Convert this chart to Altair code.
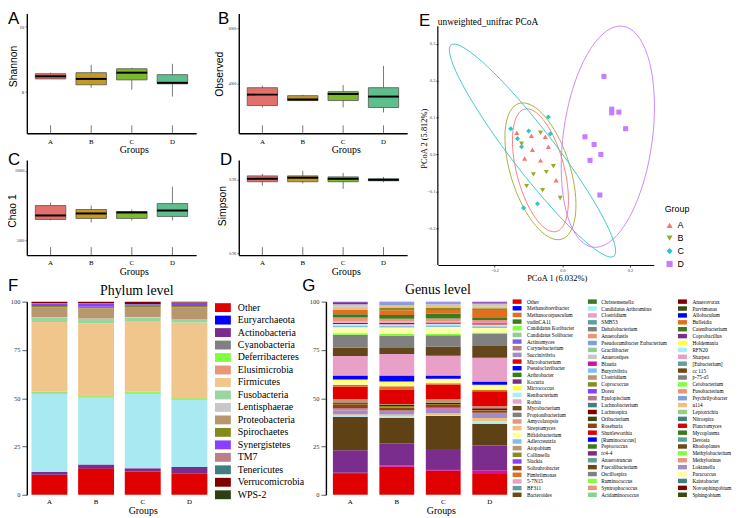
import math
import altair as alt
import pandas as pd

SERIF = "Liberation Serif"
SANS = "Liberation Sans"

# ---------------- alpha diversity (box plots) ----------------
groups = ["A", "B", "C", "D"]
box_colors = ["#E2706B", "#C39A24", "#7DB92D", "#5FBE8D"]

shannon_low = [8.39, 8.12, 8.06, 7.85]
shannon_q1 = [8.39, 8.21, 8.36, 8.24]
shannon_med = [8.47, 8.39, 8.58, 8.27]
shannon_q3 = [8.55, 8.58, 8.70, 8.52]
shannon_high = [8.58, 8.82, 8.73, 8.85]

observed_low = [3143, 3380, 3143, 2964]
observed_q1 = [3214, 3393, 3393, 3143]
observed_med = [3607, 3430, 3631, 3536]
observed_q3 = [3857, 3570, 3714, 3857]
observed_high = [3929, 3600, 3952, 4643]

chao_low = [6429, 6286, 6429, 6429]
chao_q1 = [6500, 6571, 6571, 6714]
chao_med = [6786, 6929, 7000, 7143]
chao_q3 = [7500, 7214, 7071, 7643]
chao_high = [7714, 7500, 7214, 8857]

simpson_low = [0.9876, 0.9885, 0.9863, 0.9890]
simpson_q1 = [0.9892, 0.9892, 0.9892, 0.9896]
simpson_med = [0.9904, 0.9908, 0.9904, 0.9900]
simpson_q3 = [0.9916, 0.9916, 0.9912, 0.9904]
simpson_high = [0.9924, 0.9937, 0.9928, 0.9912]

# ---------------- PCoA ----------------
pcoa_colors = ["#F8766D", "#9DAA2C", "#2EC4C9", "#C77CFF"]
pcoa_shapes = ["triangle-up", "triangle-down", "diamond", "square"]
pcoa_group = ["A"] * 8 + ["B"] * 8 + ["C"] * 8 + ["D"] * 10
pcoa_x = [-0.134, -0.091, -0.050, -0.041, -0.111, -0.064, -0.018, -0.088,
          -0.120, -0.064, -0.085, -0.047, -0.105, -0.026, -0.006, -0.058,
          -0.152, -0.132, -0.120, -0.099, -0.035, -0.114, -0.073, -0.041,
          0.123, 0.146, 0.167, 0.067, 0.094, 0.114, 0.082, 0.111, 0.187, 0.146]
pcoa_y = [0.059, 0.051, 0.048, 0.021, -0.011, -0.016, -0.070, 0.013,
          0.029, 0.059, -0.054, -0.048, -0.086, -0.032, -0.118, -0.097,
          0.070, 0.043, 0.021, 0.064, 0.056, -0.145, -0.134, 0.102,
          0.212, 0.123, 0.115, 0.048, 0.027, 0.000, -0.016, -0.110, 0.070, 0.113]
# confidence ellipses: centre and two conjugate semi-axes
ell_cx = [-0.0643, -0.0643, -0.0877, 0.1345]
ell_cy = [-0.0429, -0.0456, 0.0107, 0.0483]
ell_ux = [0.0468, 0.0632, 0.240, 0.0439]
ell_uy = [-0.1662, -0.1842, -0.287, 0.300]
ell_vx = [-0.0681, -0.0836, -0.051, 0.1304]
ell_vy = [-0.0161, -0.0241, -0.036, -0.0155]

# ---------------- Phylum level ----------------
phyla = ["Other", "Euryarchaeota", "Actinobacteria", "Bacteroidetes", "Cyanobacteria",
         "Deferribacteres", "Elusimicrobia", "Firmicutes", "Fusobacteria", "Lentisphaerae",
         "Proteobacteria", "Spirochaetes", "Synergistetes", "TM7", "Tenericutes",
         "Verrucomicrobia", "WPS-2"]
phylum_colors = ["#E00000", "#0000FF", "#7B2D8E", "#A9E9F2", "#808080", "#80FF40", "#E8967A",
                 "#F0C68C", "#99D5A0", "#C8C8C8", "#B8966E", "#848A1E", "#8A3FFF", "#B88088",
                 "#3F7F7F", "#800000", "#2F4010"]
phylum_A = [10.3, 0.1, 1.4, 40.8, 0.3, 0.4, 0.1, 36.1, 2.4, 0.2, 5.0, 0.7, 1.1, 0.2, 0.1, 0.7, 0.1]
phylum_B = [13.7, 0.1, 1.9, 34.6, 0.2, 0.5, 0.1, 37.6, 2.4, 0.2, 5.3, 0.7, 1.6, 0.1, 0.1, 0.8, 0.1]
phylum_C = [12.0, 0.1, 1.6, 38.9, 0.2, 0.4, 0.1, 36.3, 2.2, 0.2, 4.9, 1.0, 0.7, 0.1, 0.1, 1.1, 0.1]
phylum_D = [10.8, 0.1, 3.5, 35.0, 0.2, 0.4, 0.1, 39.1, 1.4, 0.2, 6.1, 0.9, 1.5, 0.1, 0.1, 0.4, 0.1]
phylum_legend = ["Other", "Euryarchaeota", "Actinobacteria", "Cyanobacteria", "Deferribacteres",
                 "Elusimicrobia", "Firmicutes", "Fusobacteria", "Lentisphaerae", "Proteobacteria",
                 "Spirochaetes", "Synergistetes", "TM7", "Tenericutes", "Verrucomicrobia", "WPS-2"]

# ---------------- Genus level ----------------
genus_segments = ["Other", "Blautia", "Prevotella", "Bacteroides", "Parabacteroides", "Streptomyces",
                  "Succinivibrio", "Rothia", "Solirubrobacter", "Collinsella", "Lachnospira",
                  "Atopobium", "Lactobacillus", "Bulleidia", "Bifidobacterium", "Holdemania",
                  "[Ruminococcus]", "Clostridium", "Faecalibacterium", "Oscillospira", "Ruminococcus",
                  "Megasphaera", "Adlercreutzia", "RFN20", "Planctomyces", "Sharpea", "Anaerofustis",
                  "Catenibacterium", "Fimbriimonas", "Coprococcus", "u114", "Anaerostipes",
                  "Psychrilyobacter", "Coprobacillus", "Dorea"]
genus_seg_colors = ["#E00000", "#D0149A", "#7B2D8E", "#5E4215", "#A8EEF8", "#F0C080",
                    "#A08CC8", "#E070C0", "#8B4513", "#8A8A20", "#800000",
                    "#B8966E", "#E00000", "#E07020", "#FFFF99", "#FFFF40",
                    "#0000FF", "#E8A0C8", "#63461A", "#808080", "#80FF40",
                    "#FFFFA8", "#80C0F0", "#C8E8F0", "#E00000", "#E8A0C8", "#E8967A",
                    "#3C7A1E", "#E07020", "#8A8A20", "#F0C080", "#C8C8C8",
                    "#80A0D8", "#7B2D8E", "#8A3FFF"]
genus_A = [10.7, 0.7, 11.6, 17.4, 0.5, 0.8, 2.0, 1.0, 2.1, 0.3, 0.7, 1.7, 6.5, 1.0, 1.7, 1.0,
           2.0, 10.1, 4.3, 6.8, 0.7, 3.1, 1.0, 0.7, 0.7, 0.7, 2.0, 1.7, 2.4, 0.0, 1.4, 1.4,
           0.0, 1.0, 0.3]
genus_B = [14.5, 0.8, 11.4, 13.1, 0.9, 0.8, 1.4, 0.7, 1.4, 1.0, 0.7, 0.3, 7.2, 2.0, 1.4, 1.0,
           3.1, 11.2, 3.1, 6.5, 0.7, 3.4, 1.0, 0.7, 0.7, 0.7, 1.4, 2.0, 2.4, 1.4, 1.4, 0.0,
           1.4, 0.0, 0.3]
genus_C = [12.4, 0.9, 10.4, 17.1, 0.5, 0.9, 2.2, 0.7, 1.4, 0.3, 0.9, 1.7, 7.7, 0.7, 1.7, 0.6,
           1.7, 10.2, 4.6, 6.0, 0.7, 3.6, 0.9, 0.7, 0.7, 0.7, 1.4, 2.4, 2.0, 1.0, 1.0, 1.0,
           1.0, 0.0, 0.3]
genus_D = [10.7, 2.0, 12.8, 11.2, 1.4, 1.7, 2.0, 0.7, 1.0, 0.3, 1.0, 1.0, 7.8, 0.7, 1.7, 1.0,
           1.7, 12.3, 6.0, 6.3, 0.7, 2.4, 0.8, 0.9, 0.7, 0.7, 1.0, 1.0, 4.1, 1.0, 1.0, 1.4,
           0.0, 0.7, 0.3]

genus_legend_1 = ["Other", "Methanobrevibacter", "Methanocorpusculum", "vadinCA11",
                  "Candidatus Koribacter", "Candidatus Solibacter", "Actinomyces", "Corynebacterium",
                  "Succinivibrio", "Microbacterium", "Pseudoclavibacter", "Arthrobacter", "Kocuria",
                  "Micrococcus", "Renibacterium", "Rothia", "Mycobacterium", "Propionibacterium",
                  "Amycolatopsis", "Streptomyces", "Bifidobacterium", "Adlercreutzia", "Atopobium",
                  "Collinsella", "Slackia", "Solirubrobacter", "Fimbriimonas", "5-7N15", "BF311",
                  "Bacteroides"]
genus_colors_1 = ["#E00000", "#0000FF", "#E07020", "#3C7A1E", "#80FF40", "#8FD08F", "#7F5FE0",
                  "#B07C88", "#A08CC8", "#E00000", "#0000FF", "#3C7A1E", "#7B2D8E", "#FFFF40",
                  "#A8EEF8", "#E8A0C8", "#6B4A14", "#808080", "#E8967A", "#F0C080", "#FFFF99",
                  "#80C0F0", "#B8966E", "#8A8A20", "#8A3FFF", "#8B4513", "#E07020", "#E8A0C8",
                  "#5F9F9F", "#6B4A14"]
genus_legend_2 = ["Christensenella", "Candidatus Arthromitus", "Clostridium", "SMB53",
                  "Dehalobacterium", "Anaerofustis", "Pseudoramibacter Eubacterium", "Gracilibacter",
                  "Anaerostipes", "Blautia", "Butyrivibrio", "Clostridium", "Coprococcus", "Dorea",
                  "Epulopiscium", "Lachnobacterium", "Lachnospira", "Oribacterium", "Roseburia",
                  "Shuttleworthia", "[Ruminococcus]", "Peptococcus", "rc4-4", "Anaerotruncus",
                  "Faecalibacterium", "Oscillospira", "Ruminococcus", "Syntrophococcus",
                  "Acidaminococcus"]
genus_colors_2 = ["#3C7A1E", "#A8EEF8", "#E8A0C8", "#5F9F9F", "#808080", "#E8967A", "#80A0D8",
                  "#8FD08F", "#C8C8C8", "#D0149A", "#80C0F0", "#B8966E", "#8A8A20", "#8A3FFF",
                  "#B07C88", "#3F7F7F", "#800000", "#3A4A10", "#8B4513", "#E00000", "#0000FF",
                  "#3C7A1E", "#7B2D8E", "#5F9F9F", "#6B4A14", "#808080", "#80FF40", "#E8967A",
                  "#8FD08F"]
genus_legend_3 = ["Anaerovorax", "Parvimonas", "Allobaculum", "Bulleidia", "Catenibacterium",
                  "Coprobacillus", "Holdemania", "RFN20", "Sharpea", "[Eubacterium]", "cc 115",
                  "p-75-a5", "Cetobacterium", "Fusobacterium", "Psychrilyobacter", "u114",
                  "Leptotrichia", "Nitrospira", "Planctomyces", "Mycoplasma", "Devosia",
                  "Rhodoplanes", "Methylobacterium", "Methylosinus", "Loktanella", "Paracoccus",
                  "Kaistobacter", "Novosphingobium", "Sphingobium"]
genus_colors_3 = ["#800000", "#3A4A10", "#0000FF", "#E07020", "#3C7A1E", "#7B2D8E", "#FFFF40",
                  "#A8EEF8", "#E8A0C8", "#5F9F9F", "#6B4A14", "#808080", "#80FF40", "#E8967A",
                  "#80A0D8", "#F0C080", "#8FD08F", "#3F7F7F", "#E00000", "#3C7A1E", "#5F9F9F",
                  "#6B4A14", "#80FF40", "#E8967A", "#A08CC8", "#FFFF99", "#3F7F7F", "#800000",
                  "#3A4A10"]


# ================= helpers =================
def letter_layer(letter, x, y):
    return alt.Chart(pd.DataFrame({"t": [letter]})).mark_text(
        font=SANS, fontSize=17, align="left", baseline="top", color="black"
    ).encode(text="t:N", x=alt.value(x), y=alt.value(y))


def text_layer(txt, x, y, size, font=SERIF, align="center", baseline="middle"):
    return alt.Chart(pd.DataFrame({"t": [txt]})).mark_text(
        font=font, fontSize=size, align=align, baseline=baseline, color="black"
    ).encode(text="t:N", x=alt.value(x), y=alt.value(y))


def box_panel(low, q1, med, q3, high, domain, ticks, fmt, lsize, ytitle, tx, ty,
              letter, lx, ly, w, h, gty):
    df = pd.DataFrame({"group": groups, "low": low, "q1": q1, "med": med,
                       "q3": q3, "high": high, "fill": box_colors})
    xaxis = alt.Axis(title="Groups", labelAngle=0, ticks=False, domainColor="black",
                     domainWidth=1.4, labelFont=SERIF, labelFontSize=7, labelColor="black",
                     labelPadding=4, titleFont=SERIF, titleFontSize=10,
                     titleFontWeight="normal", titleColor="black", titleX=108, titleY=gty,
                     titleBaseline="middle")
    xenc = alt.X("group:N", scale=alt.Scale(domain=groups, paddingInner=0.25, paddingOuter=0.21),
                 axis=xaxis)
    yaxis = alt.Axis(title=ytitle, values=ticks, format=fmt, grid=False, domainColor="black",
                     domainWidth=1.4, tickColor="#444444", tickSize=2, tickWidth=0.6,
                     labelFont=SERIF, labelFontSize=lsize, labelColor="#333333", labelPadding=1,
                     titleFont=SANS, titleFontSize=10.5, titleFontWeight="normal",
                     titleColor="black", titleX=tx, titleY=ty, titleBaseline="middle")
    ysc = alt.Scale(domain=domain, nice=False, zero=False)
    base = alt.Chart(df)
    whisk = base.mark_rule(color="#555555", strokeWidth=0.8).encode(
        x=xenc, y=alt.Y("low:Q", scale=ysc, axis=yaxis), y2="high:Q")
    box = base.mark_bar(stroke="#555555", strokeWidth=0.8).encode(
        x=xenc, y=alt.Y("q1:Q", scale=ysc, axis=yaxis), y2="q3:Q",
        fill=alt.Fill("fill:N", scale=None))
    mid = base.mark_tick(color="black", thickness=2, size=31, opacity=1).encode(
        x=xenc, y=alt.Y("med:Q", scale=ysc, axis=yaxis))
    xt = base.mark_rule(color="#555555", strokeWidth=0.8).encode(
        x=xenc, y=alt.value(h), y2=alt.value(h - 8))
    return alt.layer(whisk, box, mid, xt, letter_layer(letter, lx, ly)).properties(
        width=w, height=h)


def legend_layers(names, colors, ysc, sym_x, txt_x, shape, size, fsize, yvals):
    df = pd.DataFrame({"name": names, "color": colors, "row": yvals})
    sym = alt.Chart(df).mark_point(shape=shape, filled=True, size=size, opacity=1,
                                   strokeWidth=0).encode(
        x=alt.value(sym_x), y=alt.Y("row:Q", scale=ysc, axis=None),
        fill=alt.Fill("color:N", scale=None))
    txt = alt.Chart(df).mark_text(align="left", baseline="middle", font=SERIF,
                                  fontSize=fsize, color="black").encode(
        x=alt.value(txt_x), y=alt.Y("row:Q", scale=ysc, axis=None), text="name:N")
    return [sym, txt]


def stack_df(names, colors, series):
    rows = []
    for g, vals in zip(groups, series):
        for i, (n, c, v) in enumerate(zip(names, colors, vals)):
            rows.append({"group": g, "taxon": n, "color": c, "value": v, "idx": i})
    return pd.DataFrame(rows)


def bar_layer(df, pad_outer, pad_inner, title_x):
    xaxis = alt.Axis(title="Groups", labelAngle=0, ticks=False, domain=False,
                     labelFont=SERIF, labelFontSize=7, labelColor="black", labelPadding=3,
                     titleFont=SERIF, titleFontSize=10, titleFontWeight="normal",
                     titleColor="black", titleX=title_x, titleY=16, titleBaseline="middle")
    yaxis = alt.Axis(title=None, values=[0, 25, 50, 75, 100], grid=False, domainColor="black",
                     domainWidth=1.4, tickColor="#333333", tickSize=5, tickWidth=0.8,
                     labelFont=SERIF, labelFontSize=6.5, labelColor="#333333", labelPadding=2)
    return alt.Chart(df).mark_bar().encode(
        x=alt.X("group:N", scale=alt.Scale(domain=groups, paddingInner=pad_inner,
                                           paddingOuter=pad_outer), axis=xaxis),
        y=alt.Y("value:Q", stack="zero", scale=alt.Scale(domain=[0, 100], nice=False),
                axis=yaxis),
        order=alt.Order("idx:Q", sort="ascending"),
        color=alt.Color("color:N", scale=None),
    )


# ================= panels A-D =================
pA = box_panel(shannon_low, shannon_q1, shannon_med, shannon_q3, shannon_high,
               [6.73, 10.39], [8, 10], "d", 5, "Shannon", -13, 53, "A", -19, -2, 171, 121, 16)
pB = box_panel(observed_low, observed_q1, observed_med, observed_q3, observed_high,
               [2214, 6536], [4000, 6000], "d", 3.8, "Observed", -19, 61, "B", -21, -2, 170, 121, 16)
pC = box_panel(chao_low, chao_q1, chao_med, chao_q3, chao_high,
               [3929, 10786], [5000, 10000], "d", 3.8, "Chao 1", -14, 51, "C", -19, -8, 171, 96, 16.5)
pD = box_panel(simpson_low, simpson_q1, simpson_med, simpson_q3, simpson_high,
               [0.9592, 0.9981], [0.96, 0.99], ".2f", 4, "Simpson", -16, 46, "D", -19, -8, 170, 96, 16.5)

# ================= panel E =================
EH = 254
pts = pd.DataFrame({"group": pcoa_group, "x": pcoa_x, "y": pcoa_y})
ell_rows = []
for g, cx, cy, ux, uy, vx, vy in zip(groups, ell_cx, ell_cy, ell_ux, ell_uy, ell_vx, ell_vy):
    for k in range(73):
        t = 2 * math.pi * k / 72
        ell_rows.append({"group": g, "idx": k,
                         "x": cx + ux * math.cos(t) + vx * math.sin(t),
                         "y": cy + uy * math.cos(t) + vy * math.sin(t)})
ell = pd.DataFrame(ell_rows)

ex_scale = alt.Scale(domain=[-0.367, 0.27], nice=False, zero=False)
ey_scale = alt.Scale(domain=[-0.30, 0.383], nice=False, zero=False)
ex_axis = alt.Axis(title="PCoA 1 (6.032%)", values=[-0.2, 0.0, 0.2], format=".1f", grid=False,
                   domainColor="black", domainWidth=1.2, tickColor="#444444", tickSize=2,
                   labelFont=SERIF, labelFontSize=4.5, labelColor="#444444", labelPadding=1,
                   labelFlush=False, titleFont=SERIF, titleFontSize=8.5, titleFontWeight="normal",
                   titleColor="black", titleX=120, titleY=12.5, titleBaseline="middle")
ey_axis = alt.Axis(title="PCoA 2 (5.812%)", values=[-0.2, -0.1, 0.0, 0.1, 0.2, 0.3], format=".1f",
                   grid=False, domain=False, tickColor="#444444",
                   tickSize=2, labelFont=SERIF, labelFontSize=4.5, labelColor="#444444",
                   labelPadding=1, labelFlush=False, titleFont=SERIF, titleFontSize=8.5,
                   titleFontWeight="normal", titleColor="black", titleX=-14.5, titleY=126,
                   titleBaseline="middle")
ecolor_scale = alt.Scale(domain=groups, range=pcoa_colors)
eshape_scale = alt.Scale(domain=groups, range=pcoa_shapes)

ellipses = alt.Chart(ell).mark_line(strokeWidth=0.9).encode(
    x=alt.X("x:Q", scale=ex_scale, axis=ex_axis),
    y=alt.Y("y:Q", scale=ey_scale, axis=None),
    color=alt.Color("group:N", scale=ecolor_scale, legend=None),
    detail="group:N",
    order=alt.Order("idx:Q"),
)
points = alt.Chart(pts).mark_point(filled=True, size=26, opacity=1).encode(
    x=alt.X("x:Q", scale=ex_scale, axis=ex_axis),
    y=alt.Y("y:Q", scale=ey_scale, axis=ey_axis),
    color=alt.Color("group:N", scale=ecolor_scale, legend=None),
    shape=alt.Shape("group:N", scale=eshape_scale, legend=None),
)
yline = alt.Chart(pd.DataFrame({"k": [0]})).mark_rule(color="black", strokeWidth=1.2).encode(
    x=alt.value(0), y=alt.value(13), y2=alt.value(EH))

# custom "Group" legend of panel E
leg_df = pd.DataFrame({"group": groups, "row": list(range(len(groups)))})
leg_scale = alt.Scale(domain=[-16.46, 3.08], reverse=True, nice=False, zero=False)
leg_sym = alt.Chart(leg_df).mark_point(filled=True, size=38, opacity=1).encode(
    x=alt.value(234), y=alt.Y("row:Q", scale=leg_scale, axis=None),
    color=alt.Color("group:N", scale=ecolor_scale, legend=None),
    shape=alt.Shape("group:N", scale=eshape_scale, legend=None))
leg_txt = alt.Chart(leg_df).mark_text(align="left", baseline="middle", font=SANS, fontSize=9,
                                      color="black").encode(
    x=alt.value(242), y=alt.Y("row:Q", scale=leg_scale, axis=None), text="group:N")

pE = alt.layer(
    ellipses, points, yline, leg_sym, leg_txt,
    text_layer("Group", 229, 198, 9, font=SANS, align="left"),
    text_layer("unweighted_unifrac PCoA", 0, 12, 9.5, align="left", baseline="alphabetic"),
    letter_layer("E", -19, 0),
).resolve_scale(y="independent").properties(width=218, height=EH)

# ================= panel F =================
fdf = stack_df(phyla, phylum_colors, [phylum_A, phylum_B, phylum_C, phylum_D])
pcol = dict(zip(phyla, phylum_colors))
f_rows = list(range(len(phylum_legend)))
f_scale = alt.Scale(domain=[-0.48, 15], reverse=True, nice=False, zero=False)
f_leg = legend_layers(phylum_legend, [pcol[p] for p in phylum_legend], f_scale, 198, 213,
                      "M-1,-0.56H1V0.56H-1Z", 256, 10, f_rows)
pF = alt.layer(
    bar_layer(fdf, 0.1, 0.23, 117),
    *f_leg,
    text_layer("Phylum level", 111, -11, 14),
    letter_layer("F", -19, -24),
).resolve_scale(y="independent").properties(width=187, height=195)

# ================= panel G =================
gdf = stack_df(genus_segments, genus_seg_colors, [genus_A, genus_B, genus_C, genus_D])
g_scale = alt.Scale(domain=[0, 1], reverse=True, nice=False, zero=False)
sym_shape = "M-1,-0.5H1V0.5H-1Z"
g_layers = []
for names, cols, sx, tx in [(genus_legend_1, genus_colors_1, 193, 203),
                            (genus_legend_2, genus_colors_2, 269, 278),
                            (genus_legend_3, genus_colors_3, 360, 370)]:
    n = len(names)
    g_layers += legend_layers(names, cols, g_scale, sx, tx, sym_shape, 81, 5.3,
                              [i / (n - 1) for i in range(n)])
pG = alt.layer(
    bar_layer(gdf, 0.15, 0.25, 116),
    *g_layers,
    text_layer("Genus level", 113, -12, 14),
    letter_layer("G", -24, -24),
).resolve_scale(y="independent").properties(width=190, height=195)

# ================= layout =================
AB = alt.hconcat(pA, pB, spacing=43, bounds="flush")
CD = alt.hconcat(pC, pD, spacing=43, bounds="flush")
left = alt.vconcat(AB, CD, spacing=-3)
top = alt.hconcat(left, pE, spacing=12)
bottom = alt.hconcat(pF, pG, spacing=115, bounds="flush")
chart = alt.vconcat(top, bottom, spacing=-5).properties(padding=0).configure(
    font=SERIF).configure_view(stroke=None)

chart.save("out.html", embed_options={"renderer": "svg", "actions": False})
